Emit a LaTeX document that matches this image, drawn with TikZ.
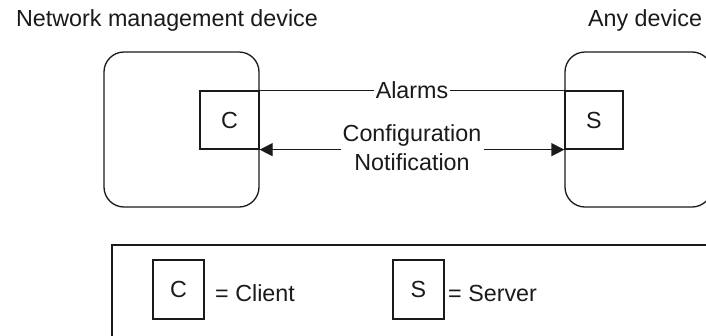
\documentclass[tikz,border=0pt]{standalone}
\usepackage{fontspec}
\setmainfont{Liberation Sans}
\usetikzlibrary{arrows.meta}
\definecolor{ink}{HTML}{1A1A1A}
\tikzset{
  lbl/.style={font=\fontsize{23.3}{29}\selectfont, text=ink, inner sep=1pt},
  dev/.style={draw=ink, line width=1.3pt, rounded corners=20pt},
  cbox/.style={draw=ink, line width=1.3pt, inner sep=0pt},
  conn/.style={draw=ink, line width=1.3pt},
  tip/.style={-{Triangle[length=13pt,width=13pt]}}
}
\begin{document}
\begin{tikzpicture}[x=1pt,y=-1pt]
\useasboundingbox (0,0) rectangle (706,335);
\clip (0,0) rectangle (706,335);
% device frames
\draw[dev] (104,52) rectangle (259,207);
\draw[dev] (565,52) rectangle (712,207);
\node[lbl] (nmd) at (167,20) {Network management device};
\node[lbl] (anyd) at (645,20) {Any device};
% client/server boxes
\node[cbox, minimum width=59pt, minimum height=58pt] (C) at (229.5,120) {};
\node[lbl] (Ct) at (C.center) {C};
\node[cbox, minimum width=58pt, minimum height=58pt] (S) at (594,120) {};
\node[lbl] (St) at (S.center) {S};
% alarms
\draw[conn] (C.north east) -- node[lbl, fill=white, inner sep=2pt] (alarms) {Alarms} (S.north west);
% configuration / notification
\node[lbl, fill=white, align=center, inner sep=2pt] (cn) at (412,148) {Configuration\\Notification};
\draw[conn, tip] (cn.west |- C.south east) -- (C.south east);
\draw[conn, tip] (cn.east |- S.south west) -- (S.south west);
% legend
\draw[conn] (112,345) -- (112,245) -- (720,245);
\node[cbox, minimum width=51pt, minimum height=59pt] (LC) at (178.5,289.5) {};
\node[lbl] (LCt) at (LC.center) {C};
\node[lbl, anchor=west] (client) at (214,293) {= Client};
\node[cbox, minimum width=51pt, minimum height=59pt] (LS) at (418.5,289.5) {};
\node[lbl] (LSt) at (LS.center) {S};
\node[lbl, anchor=west] (server) at (447,293) {= Server};
\end{tikzpicture}
\end{document}
